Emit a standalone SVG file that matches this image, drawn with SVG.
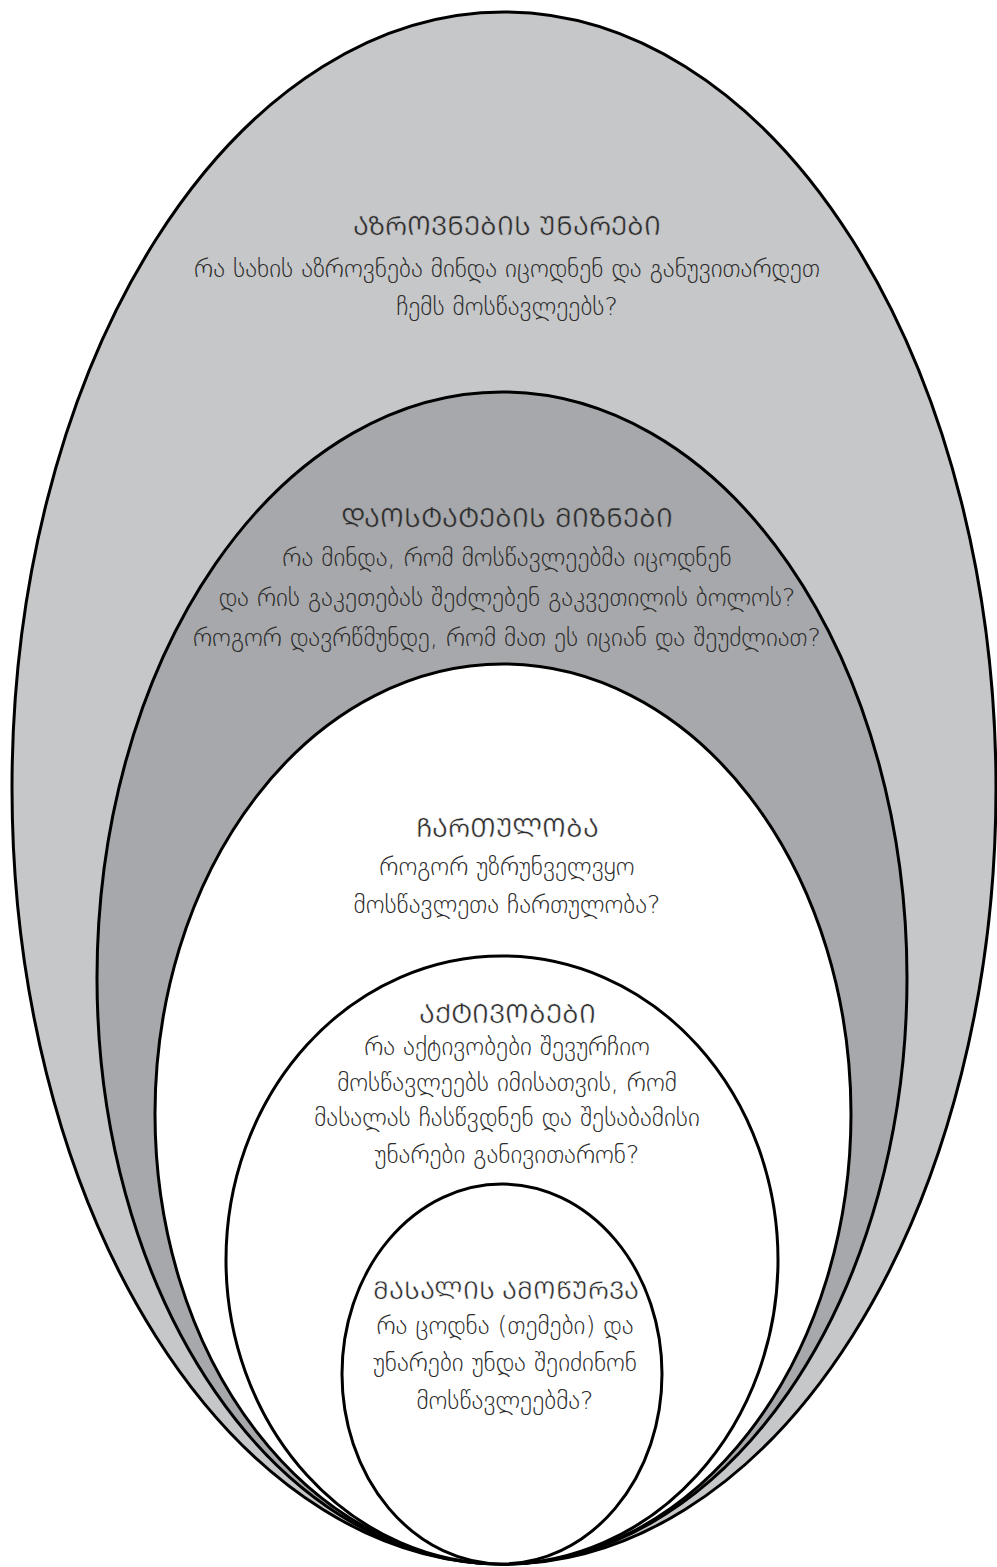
<svg xmlns="http://www.w3.org/2000/svg" width="997" height="1567" viewBox="0 0 997 1567">
  <style>
    .ring { stroke: #000; stroke-width: 3; }
    .title { font-family: "DejaVu Sans", "Noto Sans", sans-serif; font-size: 26.5px; font-weight: 300; fill: #2c2c2c; text-anchor: middle; stroke-width: 0.45; paint-order: fill; }
    .on-light { stroke: #c6c7c9; }
    .on-dark { stroke: #a7a8ab; }
    .on-white { stroke: #fff; }
    .body { font-family: "DejaVu Sans", "Noto Sans", sans-serif; font-size: 25.3px; font-weight: 300; fill: #2c2c2c; text-anchor: middle; }
  </style>
  <rect width="997" height="1567" fill="#fff"/>

  <!-- thinking skills: outermost ring -->
  <g id="thinking-skills">
    <ellipse class="ring" cx="504" cy="788" rx="492" ry="776" fill="#c6c7c9"/>
    <text class="title on-light" x="507" y="235">&#x1C90;&#x1C96;&#x1CA0;&#x1C9D;&#x1C95;&#x1C9C;&#x1C94;&#x1C91;&#x1C98;&#x1CA1; &#x1CA3;&#x1C9C;&#x1C90;&#x1CA0;&#x1C94;&#x1C91;&#x1C98;</text>
    <text class="body" x="507" y="277">რა სახის აზროვნება მინდა იცოდნენ და განუვითარდეთ</text>
    <text class="body" x="507" y="315">ჩემს მოსწავლეებს?</text>
  </g>

  <!-- mastery goals -->
  <g id="mastery-goals">
    <ellipse class="ring" cx="502" cy="978" rx="405" ry="586" fill="#a7a8ab"/>
    <text class="title on-dark" x="507" y="527">&#x1C93;&#x1C90;&#x1C9D;&#x1CA1;&#x1CA2;&#x1C90;&#x1CA2;&#x1C94;&#x1C91;&#x1C98;&#x1CA1; &#x1C9B;&#x1C98;&#x1C96;&#x1C9C;&#x1C94;&#x1C91;&#x1C98;</text>
    <text class="body" x="507" y="566">რა მინდა, რომ მოსწავლეებმა იცოდნენ</text>
    <text class="body" x="507" y="606">და რის გაკეთებას შეძლებენ გაკვეთილის ბოლოს?</text>
    <text class="body" x="507" y="646">როგორ დავრწმუნდე, რომ მათ ეს იციან და შეუძლიათ?</text>
  </g>

  <!-- engagement -->
  <g id="engagement">
    <ellipse class="ring" cx="503" cy="1114" rx="348" ry="450" fill="#fff"/>
    <text class="title on-white" x="507" y="837">&#x1CA9;&#x1C90;&#x1CA0;&#x1C97;&#x1CA3;&#x1C9A;&#x1C9D;&#x1C91;&#x1C90;</text>
    <text class="body" x="507" y="875">როგორ უზრუნველვყო</text>
    <text class="body" x="507" y="913">მოსწავლეთა ჩართულობა?</text>
  </g>

  <!-- activities -->
  <g id="activities">
    <ellipse class="ring" cx="502" cy="1260" rx="276" ry="304" fill="#fff"/>
    <text class="title on-white" x="507" y="1023">&#x1C90;&#x1CA5;&#x1CA2;&#x1C98;&#x1C95;&#x1C9D;&#x1C91;&#x1C94;&#x1C91;&#x1C98;</text>
    <text class="body" x="507" y="1055">რა აქტივობები შევურჩიო</text>
    <text class="body" x="507" y="1091">მოსწავლეებს იმისათვის, რომ</text>
    <text class="body" x="507" y="1126">მასალას ჩასწვდნენ და შესაბამისი</text>
    <text class="body" x="507" y="1163">უნარები განივითარონ?</text>
  </g>

  <!-- content coverage: innermost ring -->
  <g id="content-coverage">
    <ellipse class="ring" cx="502" cy="1374" rx="160" ry="190" fill="#fff"/>
    <text class="title on-white" x="506" y="1299" style="font-size:25px">&#x1C9B;&#x1C90;&#x1CA1;&#x1C90;&#x1C9A;&#x1C98;&#x1CA1; &#x1C90;&#x1C9B;&#x1C9D;&#x1CAC;&#x1CA3;&#x1CA0;&#x1C95;&#x1C90;</text>
    <text class="body" x="505" y="1334">რა ცოდნა (თემები) და</text>
    <text class="body" x="505" y="1371">უნარები უნდა შეიძინონ</text>
    <text class="body" x="505" y="1409">მოსწავლეებმა?</text>
  </g>

  <!-- no connectors: the rings touch at the bottom -->
  <g id="connectors"/>
</svg>
